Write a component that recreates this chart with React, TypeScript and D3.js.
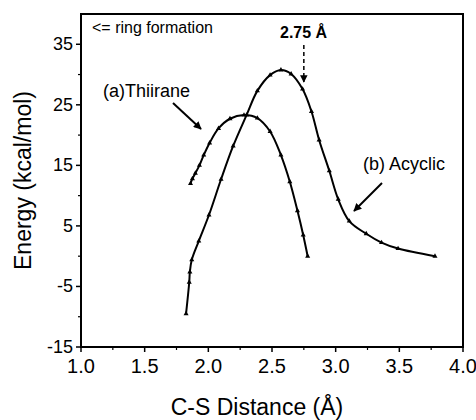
import React from "react";
import * as d3 from "d3";

const thiiraneX = [1.86, 1.875, 1.898, 1.93, 1.964, 2.01, 2.08, 2.17, 2.28, 2.385, 2.485, 2.57, 2.64, 2.70, 2.745, 2.78];
const thiiraneY = [12.0, 12.8, 13.7, 15.0, 16.7, 18.7, 21.1, 22.7, 23.3, 22.8, 20.6, 16.7, 12.3, 7.5, 3.5, 0.0];

const acyclicX = [1.825, 1.85, 1.855, 1.87, 1.925, 2.005, 2.1, 2.195, 2.3, 2.385, 2.485, 2.57, 2.65, 2.74, 2.81, 2.87, 2.95, 3.02, 3.107, 3.24, 3.36, 3.49, 3.78];
const acyclicY = [-9.5, -4.3, -2.6, -0.6, 2.5, 6.8, 12.7, 18.2, 23.3, 27.3, 29.9, 30.75, 30.1, 27.6, 23.9, 19.2, 14.1, 9.4, 5.8, 3.7, 2.25, 1.26, 0.0];

const xTicks = [1.0, 1.5, 2.0, 2.5, 3.0, 3.5, 4.0];
const yTicks = [-15, -5, 5, 15, 25, 35];

const W = 476, H = 420;
const L = 81, R = 463, T = 14, B = 347;
const FONT = "'Liberation Sans', Arial, Helvetica, sans-serif";

export default function App() {
  const x = d3.scaleLinear().domain([1, 4]).range([L, R]);
  const y = d3.scaleLinear().domain([-15, 40]).range([B, T]);
  const line = d3
    .line<[number, number]>()
    .x((d) => x(d[0]))
    .y((d) => y(d[1]))
    .curve(d3.curveCatmullRom.alpha(0.5));
  const a: [number, number][] = thiiraneX.map((v, i) => [v, thiiraneY[i]]);
  const b: [number, number][] = acyclicX.map((v, i) => [v, acyclicY[i]]);
  const tri = d3.symbol().type(d3.symbolTriangle).size(11)();
  const xMinor = d3.range(1.25, 4, 0.5);
  const yMinor = d3.range(-10, 40, 10);

  return (
    <svg width={W} height={H} style={{ position: "absolute", left: 0, top: 0, background: "#fff" }} fontFamily={FONT}>
      <defs>
        <marker id="ah" viewBox="0 0 10 10" refX="9" refY="5" markerWidth="4" markerHeight="4" orient="auto" markerUnits="strokeWidth">
          <path d="M0,0 L10,5 L0,10 z" fill="#000" />
        </marker>
        <marker id="ah2" viewBox="0 0 10 10" refX="9" refY="5" markerWidth="5" markerHeight="5" orient="auto" markerUnits="strokeWidth">
          <path d="M0,0 L10,5 L0,10 z" fill="#000" />
        </marker>
      </defs>
      <rect x={L} y={T} width={R - L} height={B - T} fill="none" stroke="#000" strokeWidth={2} />
      {xTicks.map((t) => (
        <g key={"xt" + t}>
          <line x1={x(t)} x2={x(t)} y1={B} y2={B + 5} stroke="#000" strokeWidth={1.5} />
          <text x={x(t)} y={373} textAnchor="middle" fontSize={20}>{t.toFixed(1)}</text>
        </g>
      ))}
      {xMinor.map((t) => (
        <line key={"xm" + t} x1={x(t)} x2={x(t)} y1={B} y2={B + 3} stroke="#000" strokeWidth={1.2} />
      ))}
      {yTicks.map((t) => (
        <g key={"yt" + t}>
          <line x1={L - 5} x2={L} y1={y(t)} y2={y(t)} stroke="#000" strokeWidth={1.5} />
          <text x={73} y={y(t) + 6} textAnchor="end" fontSize={18}>{t}</text>
        </g>
      ))}
      {yMinor.map((t) => (
        <line key={"ym" + t} x1={L - 3} x2={L} y1={y(t)} y2={y(t)} stroke="#000" strokeWidth={1.2} />
      ))}
      <path d={line(a) || ""} fill="none" stroke="#000" strokeWidth={2} />
      <path d={line(b) || ""} fill="none" stroke="#000" strokeWidth={2} />
      {a.map((d, i) => (
        <path key={"pa" + i} d={tri || ""} transform={`translate(${x(d[0])},${y(d[1])})`} fill="#000" />
      ))}
      {b.map((d, i) => (
        <path key={"pb" + i} d={tri || ""} transform={`translate(${x(d[0])},${y(d[1])})`} fill="#000" />
      ))}
      <text x={92} y={33} fontSize={16}>&lt;= ring formation</text>
      <text x={280} y={38} fontSize={16} fontWeight="bold">2.75 Å</text>
      <line x1={x(2.75)} x2={x(2.75)} y1={45} y2={82} stroke="#000" strokeWidth={1.5} strokeDasharray="4,3" markerEnd="url(#ah2)" />
      <text x={103} y={97} fontSize={18}>(a)Thiirane</text>
      <line x1={173} y1={103} x2={201} y2={129} stroke="#000" strokeWidth={2} markerEnd="url(#ah)" />
      <text x={363} y={170} fontSize={18}>(b) Acyclic</text>
      <line x1={382} y1={183} x2={354} y2={211} stroke="#000" strokeWidth={2} markerEnd="url(#ah)" />
      <text x={257} y={415} textAnchor="middle" fontSize={23}>C-S Distance (Å)</text>
      <text transform={`translate(31,${(T + B) / 2}) rotate(-90)`} textAnchor="middle" fontSize={23}>Energy (kcal/mol)</text>
    </svg>
  );
}
